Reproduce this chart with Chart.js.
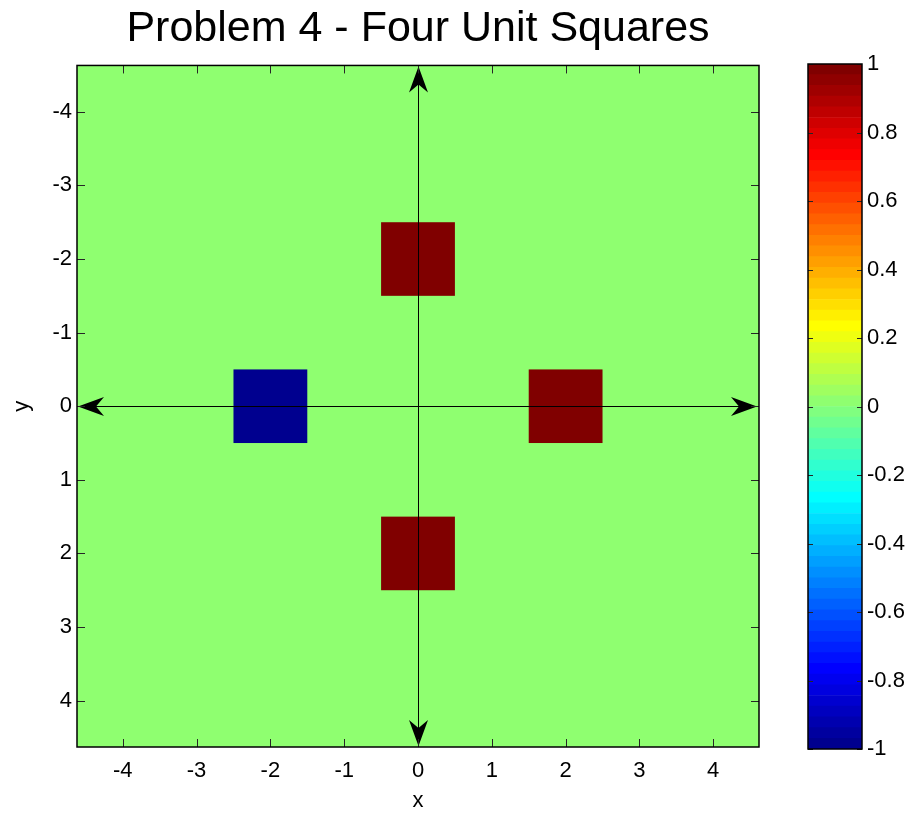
<!DOCTYPE html>
<html>
<head>
<meta charset="utf-8">
<title>Problem 4 - Four Unit Squares</title>
<script src="https://cdn.jsdelivr.net/npm/chart.js@4.4.1/dist/chart.umd.min.js"></script>
<style>
  html, body { margin: 0; padding: 0; background: #fff; }
  #wrap { position: relative; width: 915px; height: 814px; }
  #mainChart { position: absolute; left: 0; top: 0; }
  #cbarChart { position: absolute; left: 790px; top: 0; }
</style>
</head>
<body>
<div id="wrap">
  <canvas id="mainChart" width="836" height="814"></canvas>
  <canvas id="cbarChart" width="125" height="814"></canvas>
</div>
<script>
// grid values: unit squares centred on (cellX, cellY), everything else is backgroundValue
var cellX = [0, -2, 2, 0];
var cellY = [-2, 0, 0, 2];
var cellValue = [1, -1, 1, 1];
var backgroundValue = 0;

var xRange = [-4.62, 4.62];
var yRange = [-4.63, 4.63];
var xTicks = [-4, -3, -2, -1, 0, 1, 2, 3, 4];
var yTicks = [-4, -3, -2, -1, 0, 1, 2, 3, 4];

var colorLimits = [-1, 1];
var cbarTicks = [-1, -0.8, -0.6, -0.4, -0.2, 0, 0.2, 0.4, 0.6, 0.8, 1];
var cbarTickLabels = ['-1', '-0.8', '-0.6', '-0.4', '-0.2', '0', '0.2', '0.4', '0.6', '0.8', '1'];
var cbarLevels = 64;

(function() {
    'use strict';

    Chart.defaults.font.family = "'Liberation Sans', Arial, sans-serif";
    Chart.defaults.color = '#000';

    // MATLAB style jet colormap, row i in 0..m-1
    function jetRow(i, m) {
        var n = Math.ceil(m / 4);
        var u = [];
        var k;
        for (k = 1; k <= n; k++) u.push(k / n);
        for (k = 1; k < n; k++) u.push(1);
        for (k = n; k >= 1; k--) u.push(k / n);
        var g0 = Math.ceil(n / 2) - (m % 4 === 1 ? 1 : 0);
        function pick(off) {
            var idx = i - off;
            return (idx >= 0 && idx < u.length) ? u[idx] : 0;
        }
        var r = pick(g0 + n), g = pick(g0), b = pick(g0 - n);
        return 'rgb(' + Math.round(r * 255) + ',' + Math.round(g * 255) + ',' + Math.round(b * 255) + ')';
    }

    function valueColor(v) {
        var t = (v - colorLimits[0]) / (colorLimits[1] - colorLimits[0]);
        var idx = Math.floor(t * cbarLevels);
        idx = Math.max(0, Math.min(cbarLevels - 1, idx));
        return jetRow(idx, cbarLevels);
    }

    function arrowHead(ctx, tipX, tipY, dx, dy) {
        var len = 26, half = 9.5, notch = 8;
        var bx = tipX - dx * len, by = tipY - dy * len;
        var nx = -dy, ny = dx;
        ctx.beginPath();
        ctx.moveTo(tipX, tipY);
        ctx.lineTo(bx + nx * half, by + ny * half);
        ctx.lineTo(tipX - dx * (len - notch), tipY - dy * (len - notch));
        ctx.lineTo(bx - nx * half, by - ny * half);
        ctx.closePath();
        ctx.fill();
    }

    // image cells, axis arrows, box and inward ticks
    var gridPlot = {
        id: 'gridPlot',
        beforeDatasetsDraw: function(chart) {
            var ctx = chart.ctx, a = chart.chartArea;
            var xs = chart.scales.x, ys = chart.scales.y;
            ctx.save();
            ctx.fillStyle = valueColor(backgroundValue);
            ctx.fillRect(a.left, a.top, a.right - a.left, a.bottom - a.top);
            for (var i = 0; i < cellX.length; i++) {
                var x1 = xs.getPixelForValue(cellX[i] - 0.5), x2 = xs.getPixelForValue(cellX[i] + 0.5);
                var y1 = ys.getPixelForValue(cellY[i] - 0.5), y2 = ys.getPixelForValue(cellY[i] + 0.5);
                ctx.fillStyle = valueColor(cellValue[i]);
                ctx.fillRect(Math.min(x1, x2), Math.min(y1, y2), Math.abs(x2 - x1), Math.abs(y2 - y1));
            }

            // coordinate axes with arrows
            var x0 = Math.round(xs.getPixelForValue(0)) + 0.5;
            var y0 = Math.round(ys.getPixelForValue(0)) + 0.5;
            ctx.strokeStyle = '#000';
            ctx.fillStyle = '#000';
            ctx.lineWidth = 1;
            ctx.beginPath();
            ctx.moveTo(a.left, y0); ctx.lineTo(a.right, y0);
            ctx.moveTo(x0, a.top); ctx.lineTo(x0, a.bottom);
            ctx.stroke();
            arrowHead(ctx, a.left + 1, y0, -1, 0);
            arrowHead(ctx, a.right - 2, y0, 1, 0);
            arrowHead(ctx, x0, a.top + 1, 0, -1);
            arrowHead(ctx, x0, a.bottom - 1, 0, 1);

            // tick marks pointing into the box
            var tl = 8;
            ctx.strokeStyle = '#262626';
            ctx.beginPath();
            xTicks.forEach(function(v) {
                var px = Math.round(xs.getPixelForValue(v)) + 0.5;
                ctx.moveTo(px, a.top); ctx.lineTo(px, a.top + tl);
                ctx.moveTo(px, a.bottom); ctx.lineTo(px, a.bottom - tl);
            });
            yTicks.forEach(function(v) {
                var py = Math.round(ys.getPixelForValue(v)) + 0.5;
                ctx.moveTo(a.left, py); ctx.lineTo(a.left + tl, py);
                ctx.moveTo(a.right, py); ctx.lineTo(a.right - tl, py);
            });
            ctx.stroke();

            ctx.strokeStyle = '#000';
            ctx.lineWidth = 1.5;
            ctx.strokeRect(a.left, a.top, a.right - a.left, a.bottom - a.top);
            ctx.restore();
        }
    };

    new Chart(document.getElementById('mainChart').getContext('2d'), {
        type: 'scatter',
        data: { datasets: [{ data: [], pointRadius: 0 }] },
        options: {
            responsive: false,
            animation: false,
            devicePixelRatio: 1,
            plugins: {
                legend: { display: false },
                tooltip: { enabled: false },
                title: {
                    display: true,
                    text: 'Problem 4 - Four Unit Squares',
                    color: '#000',
                    font: { size: 43, weight: 'normal', lineHeight: 1.15 },
                    padding: { top: 4, bottom: 12 }
                }
            },
            scales: {
                x: {
                    type: 'linear',
                    min: xRange[0],
                    max: xRange[1],
                    grid: { display: false, drawTicks: false },
                    border: { display: false },
                    afterBuildTicks: function(s) { s.ticks = xTicks.map(function(v) { return { value: v }; }); },
                    afterFit: function(s) { s.height = 67; },
                    ticks: { font: { size: 22 }, color: '#000', padding: 11, maxRotation: 0 },
                    title: { display: true, text: 'x', font: { size: 22 }, color: '#000', padding: 0 }
                },
                y: {
                    type: 'linear',
                    reverse: true,
                    min: yRange[0],
                    max: yRange[1],
                    grid: { display: false, drawTicks: false },
                    border: { display: false },
                    afterBuildTicks: function(s) { s.ticks = yTicks.map(function(v) { return { value: v }; }); },
                    afterFit: function(s) { s.width = 77; },
                    ticks: { font: { size: 22 }, color: '#000', padding: 5 },
                    title: { display: true, text: 'y', font: { size: 22 }, color: '#000', padding: { top: 9, bottom: 0 } }
                },
                // empty right-hand axis, keeps the box clear of the colour bar
                yRight: {
                    type: 'linear',
                    position: 'right',
                    grid: { display: false, drawTicks: false },
                    border: { display: false },
                    ticks: { display: false },
                    afterFit: function(s) { s.width = 77; }
                }
            }
        },
        plugins: [gridPlot]
    });

    // colour bar: one floating bar per colormap level
    var step = (colorLimits[1] - colorLimits[0]) / cbarLevels;
    var levelSets = [];
    for (var i = 0; i < cbarLevels; i++) {
        var lo = colorLimits[0] + i * step;
        levelSets.push({
            data: [[lo, lo + step]],
            backgroundColor: jetRow(i, cbarLevels),
            borderWidth: 0,
            borderSkipped: false,
            grouped: false,
            barPercentage: 1,
            categoryPercentage: 1
        });
    }

    var cbarFrame = {
        id: 'cbarFrame',
        afterDatasetsDraw: function(chart) {
            var ctx = chart.ctx, a = chart.chartArea, ys = chart.scales.y;
            ctx.save();
            ctx.strokeStyle = '#262626';
            ctx.lineWidth = 1;
            ctx.beginPath();
            cbarTicks.forEach(function(v) {
                var py = Math.round(ys.getPixelForValue(v)) + 0.5;
                ctx.moveTo(a.left, py); ctx.lineTo(a.left + 5, py);
                ctx.moveTo(a.right, py); ctx.lineTo(a.right - 5, py);
            });
            ctx.stroke();
            ctx.strokeStyle = '#000';
            ctx.lineWidth = 1.5;
            ctx.strokeRect(a.left, a.top, a.right - a.left, a.bottom - a.top);
            ctx.restore();
        }
    };

    new Chart(document.getElementById('cbarChart').getContext('2d'), {
        type: 'bar',
        data: { labels: [''], datasets: levelSets },
        options: {
            responsive: false,
            animation: false,
            devicePixelRatio: 1,
            layout: { padding: { left: 18, right: 0, top: 64, bottom: 65 } },
            plugins: { legend: { display: false }, tooltip: { enabled: false } },
            scales: {
                x: { display: false },
                y: {
                    position: 'right',
                    min: colorLimits[0],
                    max: colorLimits[1],
                    grid: { display: false, drawTicks: false },
                    border: { display: false },
                    afterBuildTicks: function(s) { s.ticks = cbarTicks.map(function(v) { return { value: v }; }); },
                    afterFit: function(s) { s.width = 53; },
                    ticks: {
                        font: { size: 22 },
                        color: '#000',
                        padding: 5,
                        callback: function(v, idx) { return cbarTickLabels[idx]; }
                    }
                }
            }
        },
        plugins: [cbarFrame]
    });
})();
</script>
</body>
</html>
